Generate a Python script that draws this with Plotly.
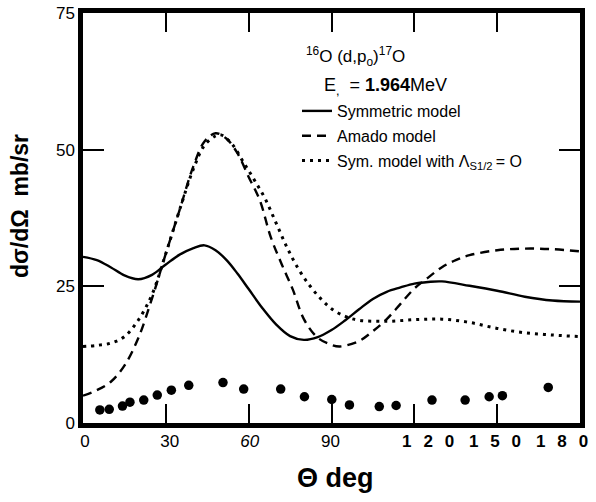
import plotly.graph_objects as go

# ---------------- data ----------------
theta_sym = [0, 5, 10, 15, 20, 25, 30, 35, 40, 44, 48, 52, 56, 60, 65, 70, 75, 80, 85,
             90, 95, 100, 105, 110, 115, 120, 125, 130, 140, 150, 160, 170, 180]
sigma_sym = [30.4, 29.8, 28.5, 27.0, 26.3, 27.1, 29.0, 30.8, 32.0, 32.5, 31.6, 29.8, 27.3,
             24.5, 21.0, 18.0, 15.9, 15.2, 15.7, 17.0, 18.8, 20.8, 22.7, 24.0, 24.8, 25.5,
             25.8, 25.9, 25.1, 24.2, 23.1, 22.4, 22.2]

theta_amado = [0, 5, 10, 15, 20, 25, 30, 35, 40, 44, 48, 52, 56, 60, 64, 68, 72, 76, 80,
               85, 90, 93, 100, 105, 110, 115, 120, 125, 130, 135, 140, 150, 160, 170, 180]
sigma_amado = [5.0, 6.0, 7.5, 10.5, 15.5, 22.8, 31.0, 39.0, 47.0, 51.5, 53.0, 52.0, 49.3,
               45.0, 40.8, 34.0, 29.0, 24.4, 19.0, 15.6, 14.3, 14.0, 15.0, 16.8, 19.0, 21.8,
               24.6, 26.6, 28.5, 29.8, 30.7, 31.6, 31.9, 31.8, 31.4]

theta_lam0 = [0, 5, 10, 15, 20, 25, 30, 35, 40, 44, 48, 50, 54, 58, 62, 66, 70, 74, 78,
              82, 86, 90, 95, 100, 110, 120, 130, 140, 150, 160, 170, 180]
sigma_lam0 = [14.0, 14.2, 14.6, 15.8, 18.8, 23.5, 31.0, 39.0, 46.5, 50.8, 52.5, 52.7, 51.0,
              47.8, 44.5, 41.0, 36.5, 32.0, 28.2, 25.2, 22.8, 20.9, 19.5, 18.8, 18.6, 18.9,
              19.0, 18.4, 17.3, 16.5, 16.1, 15.8]

theta_exp = [6.1, 9.5, 14.3, 17.0, 22.0, 26.9, 32.0, 38.3, 50.7, 58.2, 71.6, 80.2, 90.1,
             96.5, 107.3, 113.4, 126.4, 138.4, 147.1, 151.9, 168.5]
sigma_exp = [2.4, 2.5, 3.1, 3.8, 4.2, 5.1, 6.0, 6.9, 7.4, 6.2, 6.2, 4.8, 4.3,
             3.3, 3.0, 3.2, 4.2, 4.2, 4.8, 5.0, 6.5]

SEP = "\u2002\u2009"
x_tickvals = [0, 30, 60, 90, 120, 150, 180]
x_label_pos = [0.7, 31.4, 60.4, 89.6, 125.0, 149.2, 173.5]
x_ticktext = ["0", "30", "<i>60</i>", "90",
              "<b>" + SEP.join("120") + "</b>", "<b>" + SEP.join("150") + "</b>",
              "<b>" + SEP.join("180") + "</b>"]
y_tickvals = [0, 25, 50, 75]
y_ticktext = ["0", "25", "50", "75"]

series_names = ["Symmetric model", "Amado model",
                "Sym. model with \u039b<sub>S1/2</sub>\u2009= O"]

FONT = "Liberation Sans, Arial, Helvetica, sans-serif"

fig = go.Figure()
fig.add_trace(go.Scatter(x=theta_sym, y=sigma_sym, mode="lines", name=series_names[0],
                         legendgroup="a",
                         line=dict(color="black", width=2.4, shape="spline")))
fig.add_trace(go.Scatter(x=theta_amado, y=sigma_amado, mode="lines", name=series_names[1],
                         legendgroup="b",
                         line=dict(color="black", width=2.4, dash="9px,6px", shape="spline")))
fig.add_trace(go.Scatter(x=theta_lam0, y=sigma_lam0, mode="lines", name=series_names[2],
                         legendgroup="c",
                         line=dict(color="black", width=3, dash="3px,5px", shape="spline")))
fig.add_trace(go.Scatter(x=theta_exp, y=sigma_exp, mode="markers", showlegend=False,
                         marker=dict(color="black", size=9.5)))
# invisible trace carrying the tick labels on the overlay axis
fig.add_trace(go.Scatter(x=[0], y=[0], xaxis="x2", mode="markers", showlegend=False,
                         marker=dict(opacity=0), hoverinfo="skip"))

fig.update_layout(
    template="none",
    width=596, height=502,
    margin=dict(l=83, r=16, t=13, b=79),
    paper_bgcolor="white", plot_bgcolor="white",
    font=dict(family=FONT, color="black", size=17),
    showlegend=True,
    legend=dict(x=(297 - 83) / 497, y=(423 - 94) / 410, xanchor="left", yanchor="top",
                bgcolor="rgba(0,0,0,0)", borderwidth=0, tracegroupgap=1,
                font=dict(family=FONT, size=16, color="black")),
    xaxis=dict(range=[0, 180], tickvals=x_tickvals, showticklabels=False, automargin=False,
               showline=True, linewidth=4.5, linecolor="black", mirror="ticks",
               ticks="inside", ticklen=19, tickwidth=1.5, tickcolor="black",
               showgrid=False, zeroline=False),
    xaxis2=dict(range=[0, 180], overlaying="x", anchor="y", side="bottom", automargin=False,
                tickvals=x_label_pos, ticktext=x_ticktext, ticks="", showline=False,
                showgrid=False, zeroline=False, ticklabelstandoff=6,
                tickfont=dict(family=FONT, size=17, color="black")),
    yaxis=dict(range=[0, 75], tickvals=y_tickvals, ticktext=y_ticktext, automargin=False,
               showline=True, linewidth=4.5, linecolor="black", mirror="ticks",
               ticks="inside", ticklen=21, tickwidth=1.5, tickcolor="black",
               showgrid=False, zeroline=False, ticklabelstandoff=0,
               tickfont=dict(family=FONT, size=17, color="black")),
)

fig.add_annotation(text="<b>d\u03c3/d\u03a9  mb/sr</b>", textangle=-90,
                   xref="paper", yref="paper", x=(20 - 83) / 497, y=(423 - 206) / 410,
                   xanchor="center", yanchor="middle",
                   showarrow=False, font=dict(family=FONT, size=23, color="black"))
fig.add_annotation(text="<b>\u0398 deg</b>", xref="paper", yref="paper",
                   x=(335 - 83) / 497, y=(423 - 478) / 410, showarrow=False,
                   xanchor="center", yanchor="middle",
                   font=dict(family=FONT, size=27, color="black"))
fig.add_annotation(text="<sup>16</sup>O (d,p<sub>o</sub>)<sup>17</sup>O",
                   xref="paper", yref="paper", x=(355 - 83) / 497, y=(423 - 57) / 410,
                   xanchor="center", yanchor="middle",
                   showarrow=False, font=dict(family=FONT, size=17, color="black"))
fig.add_annotation(text="E<sub>,</sub>  = <b>1.964</b>MeV",
                   xref="paper", yref="paper", x=(322 - 83) / 497, y=(423 - 86) / 410,
                   xanchor="left", yanchor="middle", showarrow=False,
                   font=dict(family=FONT, size=18, color="black"))

fig.write_html("out.html", config={"displayModeBar": False},
               post_script="document.body.style.margin='0px';")
